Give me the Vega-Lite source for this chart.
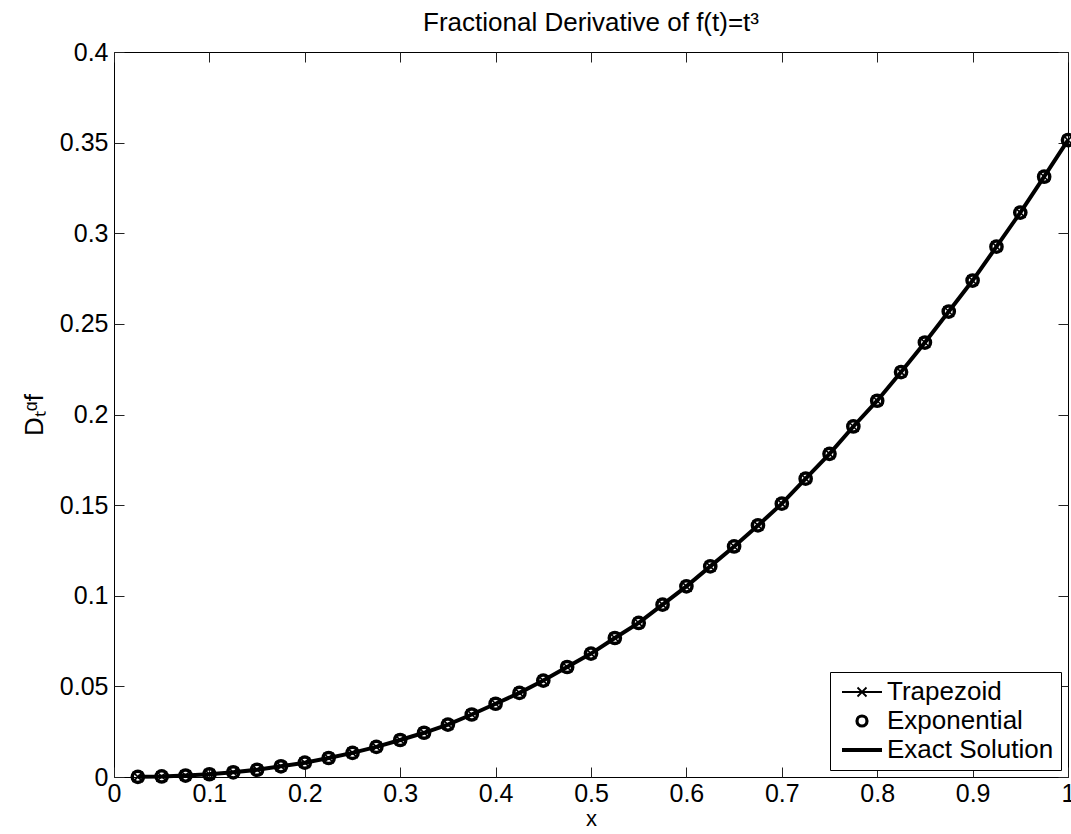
{
  "$schema": "https://vega.github.io/schema/vega-lite/v6.json",
  "width": 954,
  "height": 725,
  "autosize": {"type": "none"},
  "padding": {"left": 114, "top": 52, "right": 3, "bottom": 57},
  "background": "white",
  "title": {
    "text": "Fractional Derivative of f(t)=t³",
    "font": "Liberation Sans",
    "fontSize": 26,
    "fontWeight": "normal",
    "color": "black",
    "anchor": "middle",
    "frame": "group",
    "offset": 4
  },
  "config": {
    "view": {"stroke": "black", "strokeWidth": 1},
    "axis": {
      "domain": false,
      "grid": false,
      "labelFont": "Liberation Sans",
      "labelFontSize": 25,
      "labelColor": "black",
      "tickColor": "#222",
      "tickSize": -10,
      "tickWidth": 1,
      "labelPadding": 16,
      "titleFont": "Liberation Sans",
      "titleFontSize": 26,
      "titleFontWeight": "normal",
      "titleColor": "black",
      "labelFlush": false,
      "labelOverlap": false,
      "labelBound": false
    },
    "legend": {
      "orient": "bottom-right",
      "offset": 7,
      "labelFont": "Liberation Sans",
      "labelFontSize": 26,
      "labelColor": "black",
      "labelLimit": 400,
      "strokeColor": "black",
      "fillColor": "white",
      "padding": 7,
      "symbolSize": 400,
      "symbolOffset": 12,
      "labelOffset": 12,
      "rowPadding": 3
    }
  },
  "data": {
    "values": [
      {"x": 0.025, "y": 0.0001, "series": "Trapezoid"},
      {"x": 0.05, "y": 0.0003, "series": "Trapezoid"},
      {"x": 0.075, "y": 0.0008, "series": "Trapezoid"},
      {"x": 0.1, "y": 0.0015, "series": "Trapezoid"},
      {"x": 0.125, "y": 0.0026, "series": "Trapezoid"},
      {"x": 0.15, "y": 0.004, "series": "Trapezoid"},
      {"x": 0.175, "y": 0.0059, "series": "Trapezoid"},
      {"x": 0.2, "y": 0.0079, "series": "Trapezoid"},
      {"x": 0.225, "y": 0.0105, "series": "Trapezoid"},
      {"x": 0.25, "y": 0.0133, "series": "Trapezoid"},
      {"x": 0.275, "y": 0.0166, "series": "Trapezoid"},
      {"x": 0.3, "y": 0.0204, "series": "Trapezoid"},
      {"x": 0.325, "y": 0.0244, "series": "Trapezoid"},
      {"x": 0.35, "y": 0.0289, "series": "Trapezoid"},
      {"x": 0.375, "y": 0.0345, "series": "Trapezoid"},
      {"x": 0.4, "y": 0.0404, "series": "Trapezoid"},
      {"x": 0.425, "y": 0.0464, "series": "Trapezoid"},
      {"x": 0.45, "y": 0.0532, "series": "Trapezoid"},
      {"x": 0.475, "y": 0.0607, "series": "Trapezoid"},
      {"x": 0.5, "y": 0.0681, "series": "Trapezoid"},
      {"x": 0.525, "y": 0.0767, "series": "Trapezoid"},
      {"x": 0.55, "y": 0.085, "series": "Trapezoid"},
      {"x": 0.575, "y": 0.0951, "series": "Trapezoid"},
      {"x": 0.6, "y": 0.1052, "series": "Trapezoid"},
      {"x": 0.625, "y": 0.1162, "series": "Trapezoid"},
      {"x": 0.65, "y": 0.1272, "series": "Trapezoid"},
      {"x": 0.675, "y": 0.1388, "series": "Trapezoid"},
      {"x": 0.7, "y": 0.1508, "series": "Trapezoid"},
      {"x": 0.725, "y": 0.1646, "series": "Trapezoid"},
      {"x": 0.75, "y": 0.1783, "series": "Trapezoid"},
      {"x": 0.775, "y": 0.1934, "series": "Trapezoid"},
      {"x": 0.8, "y": 0.2076, "series": "Trapezoid"},
      {"x": 0.825, "y": 0.2234, "series": "Trapezoid"},
      {"x": 0.85, "y": 0.2397, "series": "Trapezoid"},
      {"x": 0.875, "y": 0.2568, "series": "Trapezoid"},
      {"x": 0.9, "y": 0.2739, "series": "Trapezoid"},
      {"x": 0.925, "y": 0.2926, "series": "Trapezoid"},
      {"x": 0.95, "y": 0.3114, "series": "Trapezoid"},
      {"x": 0.975, "y": 0.3312, "series": "Trapezoid"},
      {"x": 1.0, "y": 0.3514, "series": "Trapezoid"},
      {"x": 0.025, "y": 0.0001, "series": "Exponential"},
      {"x": 0.05, "y": 0.0003, "series": "Exponential"},
      {"x": 0.075, "y": 0.0008, "series": "Exponential"},
      {"x": 0.1, "y": 0.0015, "series": "Exponential"},
      {"x": 0.125, "y": 0.0026, "series": "Exponential"},
      {"x": 0.15, "y": 0.004, "series": "Exponential"},
      {"x": 0.175, "y": 0.0059, "series": "Exponential"},
      {"x": 0.2, "y": 0.0079, "series": "Exponential"},
      {"x": 0.225, "y": 0.0105, "series": "Exponential"},
      {"x": 0.25, "y": 0.0133, "series": "Exponential"},
      {"x": 0.275, "y": 0.0166, "series": "Exponential"},
      {"x": 0.3, "y": 0.0204, "series": "Exponential"},
      {"x": 0.325, "y": 0.0244, "series": "Exponential"},
      {"x": 0.35, "y": 0.0289, "series": "Exponential"},
      {"x": 0.375, "y": 0.0345, "series": "Exponential"},
      {"x": 0.4, "y": 0.0404, "series": "Exponential"},
      {"x": 0.425, "y": 0.0464, "series": "Exponential"},
      {"x": 0.45, "y": 0.0532, "series": "Exponential"},
      {"x": 0.475, "y": 0.0607, "series": "Exponential"},
      {"x": 0.5, "y": 0.0681, "series": "Exponential"},
      {"x": 0.525, "y": 0.0767, "series": "Exponential"},
      {"x": 0.55, "y": 0.085, "series": "Exponential"},
      {"x": 0.575, "y": 0.0951, "series": "Exponential"},
      {"x": 0.6, "y": 0.1052, "series": "Exponential"},
      {"x": 0.625, "y": 0.1162, "series": "Exponential"},
      {"x": 0.65, "y": 0.1272, "series": "Exponential"},
      {"x": 0.675, "y": 0.1388, "series": "Exponential"},
      {"x": 0.7, "y": 0.1508, "series": "Exponential"},
      {"x": 0.725, "y": 0.1646, "series": "Exponential"},
      {"x": 0.75, "y": 0.1783, "series": "Exponential"},
      {"x": 0.775, "y": 0.1934, "series": "Exponential"},
      {"x": 0.8, "y": 0.2076, "series": "Exponential"},
      {"x": 0.825, "y": 0.2234, "series": "Exponential"},
      {"x": 0.85, "y": 0.2397, "series": "Exponential"},
      {"x": 0.875, "y": 0.2568, "series": "Exponential"},
      {"x": 0.9, "y": 0.2739, "series": "Exponential"},
      {"x": 0.925, "y": 0.2926, "series": "Exponential"},
      {"x": 0.95, "y": 0.3114, "series": "Exponential"},
      {"x": 0.975, "y": 0.3312, "series": "Exponential"},
      {"x": 1.0, "y": 0.3514, "series": "Exponential"},
      {"x": 0.025, "y": 0.0001, "series": "Exact Solution"},
      {"x": 0.05, "y": 0.0003, "series": "Exact Solution"},
      {"x": 0.075, "y": 0.0008, "series": "Exact Solution"},
      {"x": 0.1, "y": 0.0015, "series": "Exact Solution"},
      {"x": 0.125, "y": 0.0026, "series": "Exact Solution"},
      {"x": 0.15, "y": 0.004, "series": "Exact Solution"},
      {"x": 0.175, "y": 0.0059, "series": "Exact Solution"},
      {"x": 0.2, "y": 0.0079, "series": "Exact Solution"},
      {"x": 0.225, "y": 0.0105, "series": "Exact Solution"},
      {"x": 0.25, "y": 0.0133, "series": "Exact Solution"},
      {"x": 0.275, "y": 0.0166, "series": "Exact Solution"},
      {"x": 0.3, "y": 0.0204, "series": "Exact Solution"},
      {"x": 0.325, "y": 0.0244, "series": "Exact Solution"},
      {"x": 0.35, "y": 0.0289, "series": "Exact Solution"},
      {"x": 0.375, "y": 0.0345, "series": "Exact Solution"},
      {"x": 0.4, "y": 0.0404, "series": "Exact Solution"},
      {"x": 0.425, "y": 0.0464, "series": "Exact Solution"},
      {"x": 0.45, "y": 0.0532, "series": "Exact Solution"},
      {"x": 0.475, "y": 0.0607, "series": "Exact Solution"},
      {"x": 0.5, "y": 0.0681, "series": "Exact Solution"},
      {"x": 0.525, "y": 0.0767, "series": "Exact Solution"},
      {"x": 0.55, "y": 0.085, "series": "Exact Solution"},
      {"x": 0.575, "y": 0.0951, "series": "Exact Solution"},
      {"x": 0.6, "y": 0.1052, "series": "Exact Solution"},
      {"x": 0.625, "y": 0.1162, "series": "Exact Solution"},
      {"x": 0.65, "y": 0.1272, "series": "Exact Solution"},
      {"x": 0.675, "y": 0.1388, "series": "Exact Solution"},
      {"x": 0.7, "y": 0.1508, "series": "Exact Solution"},
      {"x": 0.725, "y": 0.1646, "series": "Exact Solution"},
      {"x": 0.75, "y": 0.1783, "series": "Exact Solution"},
      {"x": 0.775, "y": 0.1934, "series": "Exact Solution"},
      {"x": 0.8, "y": 0.2076, "series": "Exact Solution"},
      {"x": 0.825, "y": 0.2234, "series": "Exact Solution"},
      {"x": 0.85, "y": 0.2397, "series": "Exact Solution"},
      {"x": 0.875, "y": 0.2568, "series": "Exact Solution"},
      {"x": 0.9, "y": 0.2739, "series": "Exact Solution"},
      {"x": 0.925, "y": 0.2926, "series": "Exact Solution"},
      {"x": 0.95, "y": 0.3114, "series": "Exact Solution"},
      {"x": 0.975, "y": 0.3312, "series": "Exact Solution"},
      {"x": 1.0, "y": 0.3514, "series": "Exact Solution"}
    ]
  },
  "layer": [
    {
      "transform": [{"filter": "datum.series === 'Trapezoid'"}],
      "mark": {"type": "line", "strokeWidth": 1.5},
      "encoding": {
        "x": {
          "field": "x", "type": "quantitative",
          "scale": {"domain": [0, 1], "nice": false, "zero": false},
          "axis": {"orient": "bottom", "values": [0, 0.1, 0.2, 0.3, 0.4, 0.5, 0.6, 0.7, 0.8, 0.9, 1], "format": ".1~f", "title": "x", "labelPadding": 14, "titlePadding": 2, "titleFontSize": 22}
        },
        "y": {
          "field": "y", "type": "quantitative",
          "scale": {"domain": [0, 0.4], "nice": false, "zero": false},
          "axis": {"orient": "left", "values": [0, 0.05, 0.1, 0.15, 0.2, 0.25, 0.3, 0.35, 0.4], "format": ".2~f", "title": "Dₜᵅf", "titlePadding": 12}
        },
        "color": {
          "field": "series", "type": "nominal",
          "scale": {"domain": ["Trapezoid", "Exponential", "Exact Solution"], "range": ["black", "black", "black"]},
          "legend": {
            "title": null,
            "encode": {
              "symbols": {
                "update": {
                  "shape": {"signal": "datum.value === 'Exponential' ? 'circle' : (datum.value === 'Trapezoid' ? 'M-2,0H2M-0.45,-0.45L0.45,0.45M-0.45,0.45L0.45,-0.45' : 'M-2,0H2')"},
                  "size": {"signal": "datum.value === 'Exponential' ? 100 : 400"},
                  "strokeWidth": {"signal": "datum.value === 'Trapezoid' ? 1.8 : (datum.value === 'Exponential' ? 3.2 : 4)"},
                  "stroke": {"value": "black"},
                  "fill": {"value": "transparent"},
                  "opacity": {"value": 1}
                }
              }
            }
          }
        }
      }
    },
    {
      "transform": [{"filter": "datum.series === 'Trapezoid'"}],
      "mark": {"type": "point", "shape": "M-1,-1L1,1M-1,1L1,-1", "filled": false, "size": 110, "strokeWidth": 1.6, "opacity": 1},
      "encoding": {
        "x": {"field": "x", "type": "quantitative", "axis": null},
        "y": {"field": "y", "type": "quantitative", "axis": null},
        "color": {"field": "series", "type": "nominal"}
      }
    },
    {
      "transform": [{"filter": "datum.series === 'Exponential'"}],
      "mark": {"type": "point", "shape": "circle", "filled": false, "size": 125, "strokeWidth": 3.5, "opacity": 1},
      "encoding": {
        "x": {"field": "x", "type": "quantitative", "axis": {"orient": "top", "values": [0, 0.1, 0.2, 0.3, 0.4, 0.5, 0.6, 0.7, 0.8, 0.9, 1], "labels": false, "title": null}},
        "y": {"field": "y", "type": "quantitative", "axis": {"orient": "right", "values": [0, 0.05, 0.1, 0.15, 0.2, 0.25, 0.3, 0.35, 0.4], "labels": false, "title": null}},
        "color": {"field": "series", "type": "nominal"}
      }
    },
    {
      "transform": [{"filter": "datum.series === 'Exact Solution'"}],
      "mark": {"type": "line", "strokeWidth": 4},
      "encoding": {
        "x": {"field": "x", "type": "quantitative", "axis": null},
        "y": {"field": "y", "type": "quantitative", "axis": null},
        "color": {"field": "series", "type": "nominal"}
      }
    }
  ],
  "resolve": {"axis": {"x": "independent", "y": "independent"}}
}
